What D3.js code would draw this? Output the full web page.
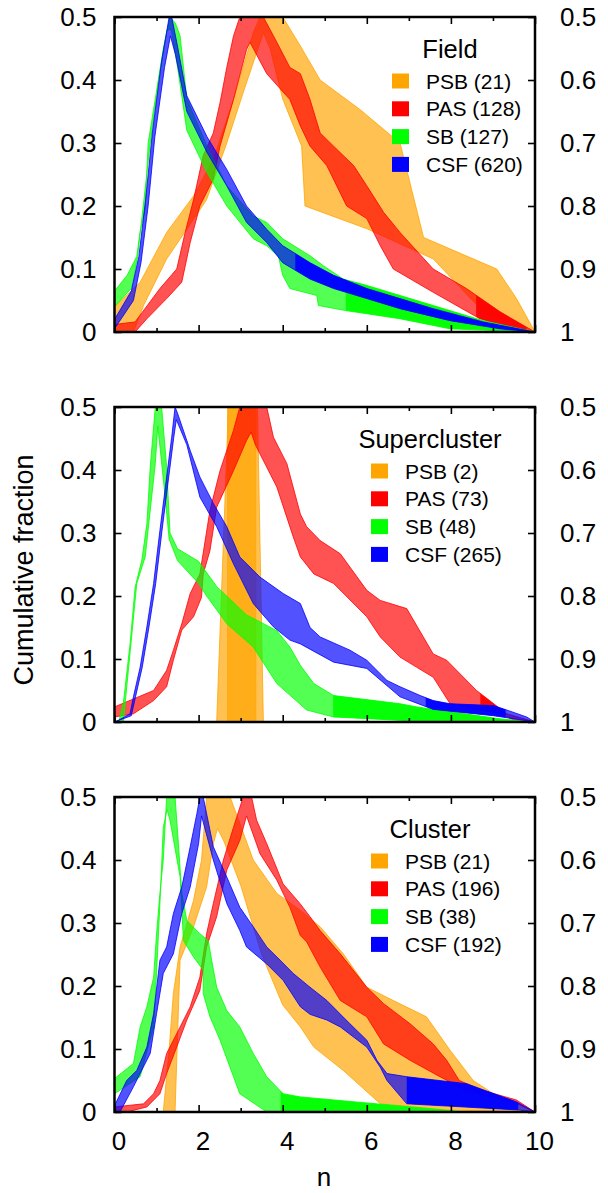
<!DOCTYPE html>
<html>
<head>
<meta charset="utf-8">
<script src="https://cdn.jsdelivr.net/npm/d3@7"></script>
<style>
  body { margin: 0; background: #fff; }
  svg { display: block; font-family: "Liberation Sans", Arial, Helvetica, sans-serif; }
</style>
</head>
<body>
<script>
// folded cumulative distributions, one panel per environment
var categories = ["PSB", "PAS", "SB", "CSF"];
var colors = ["#ffa500", "#ff0000", "#00ff00", "#0000ff"];
var environments = ["Field", "Supercluster", "Cluster"];
var fieldCounts = [21, 128, 127, 620];
var superCounts = [2, 73, 48, 265];
var clusterCounts = [21, 196, 38, 192];

var xMajor = [0, 2, 4, 6, 8, 10];
var xMinor = [1, 3, 5, 7, 9];
var yLeftTicks = [0, 0.1, 0.2, 0.3, 0.4, 0.5];
var yRightTicks = [0.5, 0.6, 0.7, 0.8, 0.9, 1];

// each band = upper edge and lower edge, [n, fraction]
var fieldPSBTop = [[0,0.04],[0.61,0.079],[1.24,0.158],[1.88,0.216],[2.35,0.274],[2.83,0.369],[3.3,0.475],[3.46,0.5],[4.0,0.5],[4.42,0.454],[4.89,0.4],[5.84,0.353],[6.79,0.3],[7.35,0.15],[9.09,0.1],[9.56,0.053],[10,0]];
var fieldPSBBot = [[0,0],[0.45,0],[0.69,0.042],[1.24,0.116],[1.72,0.163],[2.19,0.21],[2.67,0.3],[3.06,0.38],[3.54,0.475],[3.7,0.45],[4.0,0.37],[4.45,0.295],[4.53,0.2],[6.0,0.164],[7.58,0.116],[8.77,0.032],[10,0]];
var fieldPASTop = [[0,0.012],[0.49,0.016],[1.08,0.069],[1.48,0.1],[1.68,0.158],[1.88,0.21],[2.11,0.28],[2.35,0.316],[2.51,0.364],[2.67,0.42],[2.83,0.47],[2.98,0.5],[3.54,0.5],[3.86,0.46],[4.17,0.42],[4.42,0.41],[4.65,0.369],[4.89,0.316],[5.21,0.295],[5.69,0.264],[6.0,0.232],[6.4,0.19],[6.79,0.158],[7.58,0.1],[8.37,0.069],[9.17,0.032],[10,0]];
var fieldPASBot = [[0,0],[0.49,0],[0.77,0.021],[1.24,0.053],[1.6,0.079],[1.8,0.142],[2.03,0.2],[2.35,0.243],[2.51,0.295],[2.83,0.369],[3.14,0.448],[3.22,0.46],[3.62,0.41],[4.17,0.369],[4.42,0.327],[4.65,0.295],[5.05,0.264],[5.52,0.2],[6.0,0.18],[6.32,0.137],[6.63,0.1],[7.58,0.063],[8.69,0.021],[9.49,0.005],[10,0]];
var fieldSBTop = [[0,0.065],[0.3,0.09],[0.53,0.12],[0.61,0.16],[0.73,0.195],[0.8,0.3],[0.97,0.37],[1.16,0.45],[1.32,0.5],[1.45,0.49],[1.56,0.47],[1.72,0.37],[2.2,0.295],[2.67,0.232],[3.3,0.184],[3.62,0.174],[4.0,0.148],[4.65,0.121],[4.97,0.105],[5.44,0.084],[6.0,0.074],[7.58,0.042],[8.77,0.018],[10,0]];
var fieldSBBot = [[0,0.04],[0.41,0.07],[0.55,0.12],[0.7,0.21],[0.85,0.3],[1.05,0.4],[1.25,0.48],[1.35,0.48],[1.5,0.42],[1.72,0.32],[2.2,0.253],[2.67,0.2],[3.3,0.148],[3.62,0.137],[3.9,0.12],[4.0,0.09],[4.17,0.069],[4.81,0.058],[4.85,0.042],[5.5,0.034],[6.79,0.021],[7.98,0.005],[10,0]];
var fieldCSFTop = [[0,0.02],[0.4,0.065],[0.58,0.12],[0.74,0.21],[0.9,0.316],[1.12,0.43],[1.3,0.5],[1.36,0.5],[1.48,0.46],[1.72,0.375],[2.2,0.31],[2.67,0.258],[3.14,0.2],[3.62,0.163],[4.0,0.137],[4.65,0.11],[5.21,0.09],[6.0,0.069],[6.79,0.053],[7.58,0.037],[8.77,0.016],[10,0]];
var fieldCSFBot = [[0,0.005],[0.45,0.05],[0.63,0.11],[0.8,0.2],[0.96,0.31],[1.19,0.42],[1.33,0.47],[1.45,0.44],[1.72,0.35],[2.2,0.285],[2.67,0.232],[3.14,0.174],[3.62,0.142],[4.0,0.11],[4.65,0.084],[5.21,0.069],[6.0,0.053],[6.79,0.037],[7.98,0.018],[9.17,0.005],[10,0]];

var superPSBTop = [[2.43,0],[2.71,0.5],[3.4,0.5],[3.54,0]];
var superPSBBot = [[2.43,0],[3.54,0]];
var superPSBCoreTop = [[2.69,0],[2.69,0.5],[3.36,0.5],[3.36,0]];
var superPSBCoreBot = [[2.69,0],[3.36,0]];
var superPASTop = [[0,0.024],[0.93,0.05],[1.24,0.082],[1.4,0.114],[1.6,0.156],[1.8,0.204],[2.03,0.235],[2.27,0.336],[2.51,0.399],[2.83,0.463],[2.98,0.5],[3.62,0.5],[3.78,0.452],[4.1,0.41],[4.42,0.33],[4.57,0.31],[4.89,0.288],[5.37,0.267],[6.0,0.209],[6.32,0.193],[6.95,0.18],[7.58,0.108],[7.9,0.098],[8.61,0.05],[9.33,0.013],[10,0]];
var superPASBot = [[0,0.008],[0.45,0.013],[0.93,0.034],[1.24,0.056],[1.4,0.098],[1.6,0.146],[1.88,0.167],[2.07,0.198],[2.11,0.235],[2.27,0.272],[2.43,0.341],[2.83,0.399],[3.14,0.447],[3.25,0.46],[3.35,0.44],[3.86,0.373],[4.25,0.294],[4.42,0.262],[4.74,0.235],[5.21,0.22],[6.0,0.167],[6.32,0.135],[6.79,0.103],[7.58,0.071],[7.98,0.029],[9.17,0.013],[9.5,0.003],[10,0]];
var superSBTop = [[0.1,0],[0.21,0.03],[0.37,0.124],[0.49,0.214],[0.65,0.257],[0.77,0.315],[0.85,0.405],[0.97,0.5],[1.12,0.5],[1.24,0.405],[1.32,0.3],[1.5,0.275],[2.0,0.255],[2.43,0.215],[3.14,0.17],[3.86,0.145],[4.17,0.119],[4.42,0.09],[4.74,0.061],[5.21,0.042],[6.79,0.029],[7.19,0.024],[9.17,0.005],[10,0]];
var superSBBot = [[0.1,0],[0.21,0],[0.33,0.082],[0.53,0.22],[0.73,0.262],[0.85,0.336],[0.97,0.41],[1.03,0.47],[1.2,0.36],[1.3,0.29],[1.5,0.256],[2.0,0.22],[2.19,0.2],[2.67,0.156],[3.3,0.119],[3.86,0.061],[4.57,0.019],[5.21,0.008],[7.58,0],[10,0]];
var superCSFTop = [[0,0],[0.1,0.003],[0.37,0.013],[0.45,0.04],[0.61,0.087],[0.77,0.151],[0.93,0.22],[1.08,0.304],[1.24,0.389],[1.36,0.452],[1.44,0.5],[1.5,0.49],[1.8,0.431],[2.03,0.389],[2.35,0.347],[2.67,0.31],[2.98,0.262],[3.46,0.23],[4.01,0.204],[4.42,0.188],[4.65,0.15],[4.89,0.135],[5.6,0.114],[6.0,0.098],[6.48,0.066],[6.79,0.056],[7.27,0.042],[7.58,0.034],[7.98,0.029],[9.01,0.026],[9.33,0.019],[9.8,0.008],[10,0]];
var superCSFBot = [[0,0],[0.4,0.01],[0.5,0.04],[0.66,0.087],[0.82,0.151],[0.98,0.22],[1.13,0.304],[1.29,0.389],[1.41,0.452],[1.47,0.48],[1.72,0.44],[2.03,0.357],[2.43,0.31],[2.83,0.251],[3.3,0.188],[3.78,0.151],[4.17,0.13],[4.42,0.124],[5.21,0.095],[6.0,0.085],[6.79,0.04],[7.58,0.02],[9.01,0.01],[10,0]];

var clusterPSBTop = [[1.16,0],[1.3,0.1],[1.4,0.188],[1.56,0.262],[1.88,0.336],[2.07,0.4],[2.19,0.5],[2.75,0.5],[3.3,0.4],[3.86,0.347],[4.42,0.32],[4.89,0.294],[5.44,0.251],[6.0,0.198],[6.63,0.177],[7.42,0.151],[7.98,0.098],[8.53,0.05],[9.01,0.029],[10,0]];
var clusterPSBBot = [[1.16,0],[1.44,0],[1.48,0.082],[1.56,0.241],[1.88,0.294],[2.19,0.357],[2.35,0.426],[2.45,0.45],[2.6,0.43],[3.0,0.36],[3.5,0.25],[4.0,0.17],[4.42,0.135],[4.74,0.103],[5.44,0.066],[6.32,0.013],[7.98,0.003],[10,0]];
var clusterPASTop = [[0,0.008],[0.69,0.013],[0.93,0.029],[1.08,0.05],[1.24,0.093],[1.56,0.135],[1.8,0.167],[2.03,0.214],[2.19,0.283],[2.35,0.331],[2.59,0.4],[2.83,0.452],[3.06,0.5],[3.26,0.5],[3.38,0.463],[3.62,0.426],[4.01,0.362],[4.41,0.331],[4.65,0.31],[4.89,0.288],[5.37,0.251],[6.0,0.198],[6.4,0.172],[7.03,0.14],[7.58,0.108],[7.9,0.082],[8.2,0.05],[8.77,0.034],[9.56,0.019],[10,0]];
var clusterPASBot = [[0,0],[0.29,0],[0.77,0.008],[1.08,0.029],[1.24,0.061],[1.48,0.103],[1.72,0.146],[2.03,0.193],[2.19,0.262],[2.43,0.31],[2.67,0.384],[2.98,0.431],[3.14,0.47],[3.46,0.41],[3.86,0.368],[4.17,0.325],[4.42,0.28],[4.57,0.27],[4.89,0.23],[5.37,0.177],[6.0,0.151],[6.4,0.108],[7.03,0.082],[7.74,0.056],[8.37,0.034],[9.49,0.016],[10,0]];
var clusterSBTop = [[0,0.053],[0.45,0.077],[0.61,0.135],[0.77,0.167],[0.93,0.214],[1.0,0.283],[1.08,0.347],[1.16,0.4],[1.24,0.5],[1.44,0.5],[1.52,0.426],[1.6,0.347],[1.72,0.304],[2.03,0.283],[2.23,0.272],[2.31,0.241],[2.43,0.198],[2.67,0.161],[2.98,0.135],[3.3,0.093],[3.62,0.056],[4.01,0.029],[4.42,0.024],[8.38,0]];
var clusterSBBot = [[0,0.029],[0.61,0.056],[0.93,0.135],[1.0,0.22],[1.08,0.33],[1.16,0.452],[1.25,0.48],[1.32,0.463],[1.56,0.373],[1.64,0.272],[1.88,0.246],[2.11,0.225],[2.11,0.188],[2.27,0.151],[2.51,0.114],[2.83,0.056],[2.98,0.029],[3.62,0],[8.38,0]];
var clusterCSFTop = [[0,0.01],[0.29,0.05],[0.53,0.066],[0.77,0.103],[0.93,0.156],[1.08,0.241],[1.24,0.262],[1.4,0.315],[1.6,0.357],[1.8,0.421],[1.96,0.474],[2.03,0.5],[2.11,0.5],[2.35,0.421],[2.67,0.373],[2.98,0.325],[3.3,0.294],[3.62,0.262],[3.94,0.241],[4.25,0.22],[4.65,0.198],[5.05,0.177],[5.6,0.14],[6.0,0.114],[6.24,0.082],[6.48,0.061],[6.95,0.056],[8.37,0.045],[9.56,0.016],[10,0]];
var clusterCSFBot = [[0,0],[0.13,0],[0.45,0.04],[0.85,0.093],[1.0,0.156],[1.16,0.22],[1.4,0.251],[1.6,0.315],[1.8,0.357],[2.0,0.426],[2.07,0.47],[2.35,0.4],[2.67,0.331],[2.98,0.288],[3.14,0.262],[3.62,0.235],[4.01,0.209],[4.42,0.167],[4.65,0.155],[5.05,0.146],[5.37,0.135],[6.0,0.103],[6.32,0.071],[6.48,0.05],[6.95,0.013],[9.64,0.003],[10,0]];

// n-ranges where the dense steps pile up into a solid colour: [panel, series, from, to]
var solidRanges = [
  [0, 3, 4.3, 9.8], [0, 2, 5.5, 9.8], [0, 1, 8.6, 9.8],
  [1, 3, 7.4, 9.3], [1, 2, 5.2, 9.8], [1, 1, 8.7, 9.3],
  [2, 3, 6.95, 9.6], [2, 2, 3.95, 8.4]
];

var panels = [
  { name: environments[0], counts: fieldCounts,
    bands: [[[fieldPSBTop, fieldPSBBot]], [[fieldPASTop, fieldPASBot]], [[fieldSBTop, fieldSBBot]], [[fieldCSFTop, fieldCSFBot]]] },
  { name: environments[1], counts: superCounts,
    bands: [[[superPSBTop, superPSBBot], [superPSBCoreTop, superPSBCoreBot]], [[superPASTop, superPASBot]], [[superSBTop, superSBBot]], [[superCSFTop, superCSFBot]]] },
  { name: environments[2], counts: clusterCounts,
    bands: [[[clusterPSBTop, clusterPSBBot]], [[clusterPASTop, clusterPASBot]], [[clusterSBTop, clusterSBBot]], [[clusterCSFTop, clusterCSFBot]]] }
];

var width = 608, height = 1193;
var panelTops = [17, 407, 797];
var ph = 315;
var legendX = [392, 371, 371];
var titleX = [450, 430, 430];

var svg = d3.select("body").append("svg")
  .attr("width", width)
  .attr("height", height);

var x = d3.scaleLinear().domain([0, 10]).range([114.5, 535]);

var fmt = d => String(+d.toFixed(1));

panels.forEach(function (panel, p) {
  var top = panelTops[p];
  var y = d3.scaleLinear().domain([0, 0.5]).range([top + ph, top]);
  var yr = d3.scaleLinear().domain([0.5, 1]).range([top, top + ph]);

  var line = d3.line().x(d => x(d[0])).y(d => y(d[1]));
  var bandPath = b => line(b[0].concat(b[1].slice().reverse())) + "Z";

  svg.append("clipPath").attr("id", "clip" + p)
    .append("rect")
    .attr("x", x(0)).attr("y", top)
    .attr("width", x(10) - x(0)).attr("height", ph);

  var g = svg.append("g").attr("clip-path", "url(#clip" + p + ")");

  panel.bands.forEach(function (bands, i) {
    g.selectAll(null)
      .data(bands)
      .enter().append("path")
      .attr("d", bandPath)
      .attr("fill", colors[i])
      .attr("fill-opacity", 0.68)
      .attr("stroke", colors[i])
      .attr("stroke-width", 0.8)
      .attr("stroke-linejoin", "round");

    solidRanges.filter(s => s[0] === p && s[1] === i).forEach(function (s, k) {
      var id = "solid" + p + "_" + i + "_" + k;
      svg.append("clipPath").attr("id", id)
        .append("rect")
        .attr("x", x(s[2])).attr("y", top)
        .attr("width", x(s[3]) - x(s[2])).attr("height", ph);
      g.append("g").attr("clip-path", "url(#" + id + ")")
        .selectAll(null)
        .data(bands)
        .enter().append("path")
        .attr("d", bandPath)
        .attr("fill", colors[i])
        .attr("fill-opacity", 0.92);
    });
  });

  // axes, ticks inward
  var axes = svg.append("g").attr("class", "axes");
  axes.append("g")
    .attr("transform", "translate(" + x(0) + ",0)")
    .call(d3.axisLeft(y).tickValues(yLeftTicks).tickSize(-7).tickPadding(18).tickFormat(fmt));
  axes.append("g")
    .attr("transform", "translate(" + x(10) + ",0)")
    .call(d3.axisRight(yr).tickValues(yRightTicks).tickSize(-7).tickPadding(25).tickFormat(fmt));
  var bottom = axes.append("g")
    .attr("transform", "translate(0," + (top + ph) + ")")
    .call(d3.axisBottom(x).tickValues(xMajor).tickSize(-7).tickPadding(20)
      .tickFormat(p === 2 ? fmt : ""));
  bottom.selectAll("text").attr("dx", 4);
  axes.append("g")
    .attr("transform", "translate(0," + (top + ph) + ")")
    .call(d3.axisBottom(x).tickValues(xMinor).tickSize(-4).tickFormat(""));
  axes.append("g")
    .attr("transform", "translate(0," + top + ")")
    .call(d3.axisTop(x).tickValues(xMajor).tickSize(-7).tickFormat(""));
  axes.append("g")
    .attr("transform", "translate(0," + top + ")")
    .call(d3.axisTop(x).tickValues(xMinor).tickSize(-4).tickFormat(""));

  axes.selectAll(".domain").remove();
  axes.selectAll(".tick line").attr("stroke", "#000").attr("stroke-width", 1.6);
  axes.selectAll("text")
    .attr("font-family", "Liberation Sans, Arial, Helvetica, sans-serif")
    .attr("font-size", 26)
    .attr("fill", "#000");
  axes.selectAll("g").attr("font-family", null).attr("font-size", null);

  svg.append("rect")
    .attr("x", x(0)).attr("y", top)
    .attr("width", x(10) - x(0)).attr("height", ph)
    .attr("fill", "none")
    .attr("stroke", "#000")
    .attr("stroke-width", 2.5);

  // key
  var key = svg.append("g");
  key.append("text")
    .attr("x", titleX[p]).attr("y", top + 41)
    .attr("text-anchor", "middle")
    .attr("font-size", 25.5)
    .text(panel.name);
  var rows = key.selectAll("g.row")
    .data(categories)
    .enter().append("g")
    .attr("class", "row")
    .attr("transform", (d, i) => "translate(" + legendX[p] + "," + (top + 64 + i * 27.8) + ")");
  rows.append("rect")
    .attr("x", 0).attr("y", -7.5)
    .attr("width", 17).attr("height", 15)
    .attr("fill", (d, i) => colors[i]);
  rows.append("text")
    .attr("x", 34).attr("y", 7.5)
    .attr("font-size", 21)
    .text((d, i) => d + " (" + panel.counts[i] + ")");
});

svg.append("text")
  .attr("transform", "translate(33,570) rotate(-90)")
  .attr("text-anchor", "middle")
  .attr("font-size", 27)
  .text("Cumulative fraction");

svg.append("text")
  .attr("x", 324).attr("y", 1186)
  .attr("text-anchor", "middle")
  .attr("font-size", 26)
  .text("n");
</script>
</body>
</html>
